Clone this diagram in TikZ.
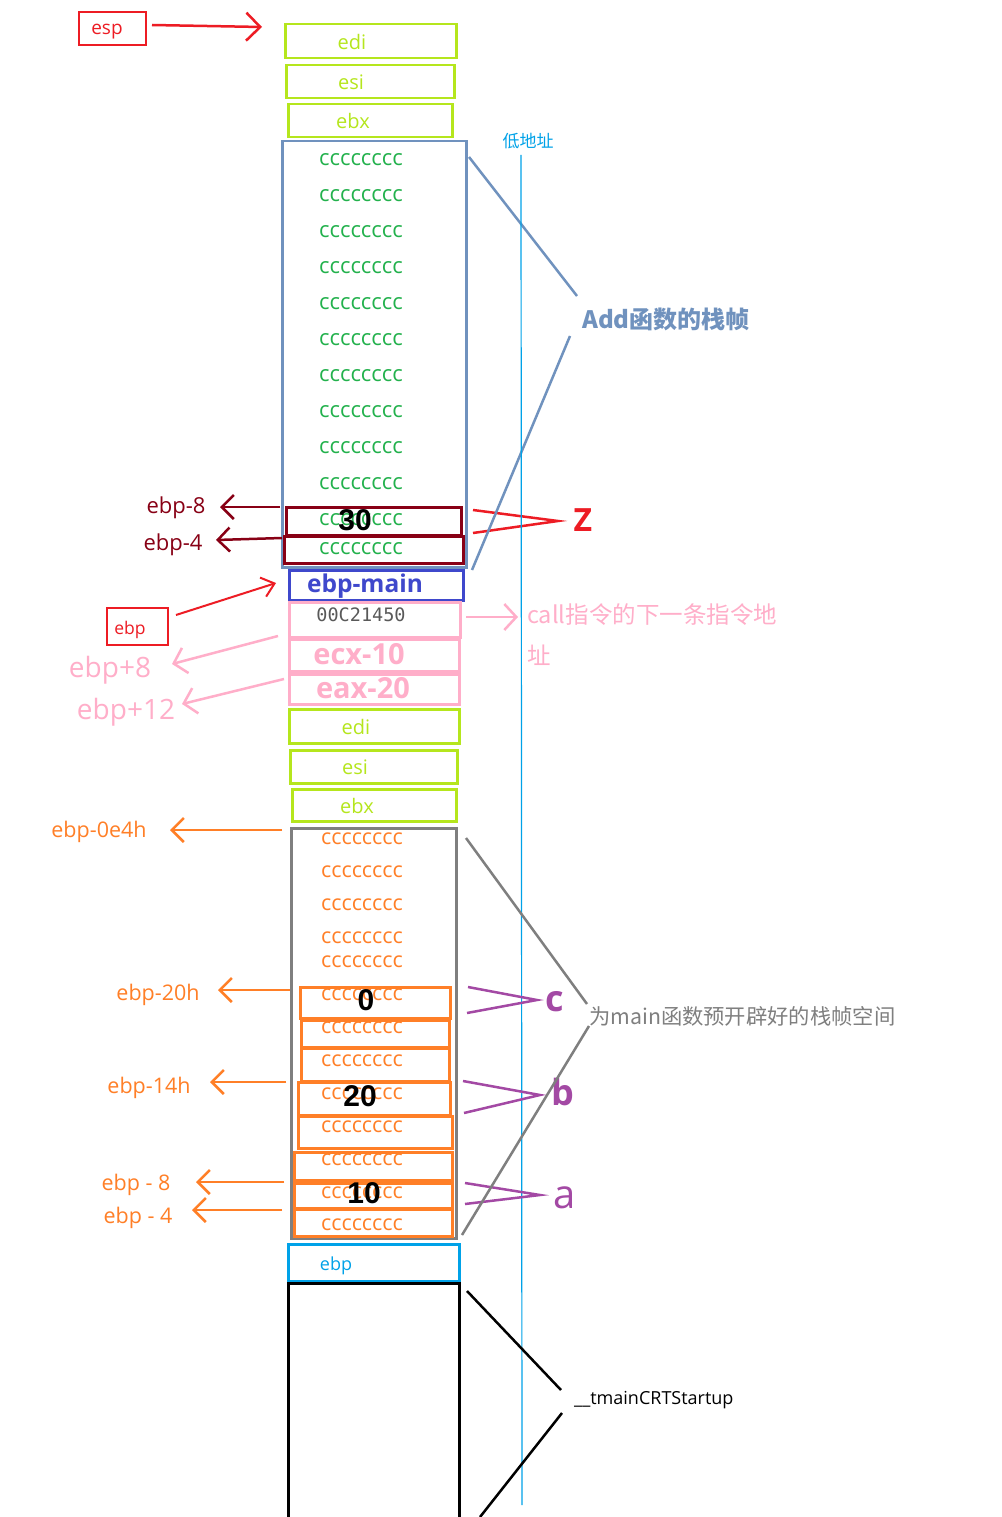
\documentclass[tikz,border=0pt]{standalone}
\usepackage{fontspec}
\setmainfont{Open Sans}
\newfontfamily\cjk{Noto Sans CJK SC}
\newfontfamily\monof{DejaVu Sans Mono}
\newfontfamily\arialf{Liberation Sans}
\usetikzlibrary{arrows.meta}
\newcommand\fsz[1]{\fontsize{#1}{#1}\selectfont}
\definecolor{ygreen}{RGB}{181,230,29}
\definecolor{cgreen}{RGB}{34,177,76}
\definecolor{addblue}{RGB}{112,146,190}
\definecolor{dred}{RGB}{136,0,21}
\definecolor{bred}{RGB}{237,28,36}
\definecolor{cyanc}{RGB}{0,162,232}
\definecolor{indig}{RGB}{63,72,204}
\definecolor{pinkc}{RGB}{255,174,201}
\definecolor{orangec}{RGB}{255,127,39}
\definecolor{grayc}{RGB}{127,127,127}
\definecolor{purp}{RGB}{163,73,164}
\definecolor{monog}{RGB}{89,89,89}
\begin{document}
\begin{tikzpicture}[x=1pt,y=-1pt,
  box/.style={draw, line width=2.5pt, inner sep=0pt, anchor=north west},
  lbl/.style={inner sep=0pt, anchor=center, yshift=-2.5pt, execute at begin node={\vphantom{Xg}}},
  lblw/.style={lbl, anchor=west},
  cc/.style={lbl, font=\fsz{22}},
  arr/.style={line width=2.5pt, -{Straight Barb[length=12pt,width=24pt]}},
  parr/.style={pinkc, line width=2.5pt, -{Straight Barb[length=12pt,width=26pt]}},
  big/.style={lbl, font=\arialf\bfseries\fsz{30}, text=black}
]
\path[fill=white,use as bounding box] (0,0) rectangle (1001,1517);

% esp
\node[box, draw=bred, line width=2pt, minimum width=67, minimum height=33] (espbox) at (78,11) {};
\node[lbl, text=bred, font=\fsz{19}] (esp) at (107,28) {esp};
\coordinate (espstart) at (152,25);
\coordinate (esptip) at (262,27);
\draw[arr, bred, -{Straight Barb[length=14pt,width=28pt]}] (espstart) -- (esptip);

% top saved registers
\node[box, draw=ygreen, minimum width=171, minimum height=34] (edi1) at (284,23) {};
\node[lbl, text=ygreen, font=\fsz{20}] (edi1t) at (352,42) {edi};
\node[box, draw=ygreen, minimum width=168, minimum height=33] (esi1) at (285,64) {};
\node[lbl, text=ygreen, font=\fsz{20}] (esi1t) at (351,82) {esi};
\node[box, draw=ygreen, minimum width=164, minimum height=33] (ebx1) at (287,103) {};
\node[lbl, text=ygreen, font=\fsz{20}] (ebx1t) at (353,121) {ebx};

% Add frame
\node[box, draw=addblue, minimum width=184, minimum height=426] (addf) at (281,140) {};
\foreach \yy in {158,194,230,266,302,338,374,410,446,482,518,547}
  \node[cc, text=cgreen] at (361,\yy) {cccccccc};
\node[box, draw=dred, minimum width=175, minimum height=28] (zb1) at (285,506) {};
\node[box, draw=dred, minimum width=179, minimum height=27] (zb2) at (283,535) {};
\node[big] (n30) at (355,521) {30};
\node[lbl, text=dred, font=\fsz{22}] (em8) at (176,505) {ebp-8};
\node[lbl, text=dred, font=\fsz{22}] (em4) at (173,542) {ebp-4};
\draw[arr, dred] (280,507) -- (220,507);
\draw[arr, dred] (282,538) -- (216,540);
\draw[bred, line width=2.5pt] (473,510) -- (558,521) -- (473,533);
\node[lbl, text=bred, font=\bfseries\fsz{32}] (zl) at (583,521) {Z};

\draw[addblue, line width=2.5pt] (469,157) -- (577,296);
\draw[addblue, line width=2.5pt] (570,336) -- (472,570);
\node[lbl, text=addblue, font=\cjk\bfseries\fsz{24}] (addl) at (666,319) {Add函数的栈帧};

% low address line
\node[lbl, text=cyanc, font=\cjk\fsz{17}] (low) at (528,140) {低地址};
\draw[cyanc, line width=1.2pt] (521,155) -- (522,1505);

% ebp-main
\node[box, draw=indig, minimum width=174, minimum height=30] (ebpm) at (288,569) {};
\node[lbl, text=indig, font=\bfseries\fsz{24.5}] (ebpmt) at (365,584) {ebp-main};

% ebp red box
\node[box, draw=bred, line width=2pt, minimum width=61, minimum height=37] (ebpr) at (106,607) {};
\node[lbl, text=bred, font=\fsz{17.5}] (ebprt) at (130,627) {ebp};
\draw[bred, line width=2pt, -{Straight Barb[length=12pt,width=20pt]}] (176,615) -- (276,583);

% pink
\node[box, draw=pinkc, minimum width=171, minimum height=35] (ret) at (288,601) {};
\node[lbl, text=monog, font=\monof\fsz{18.5}] (rett) at (361,614) {00C21450};
\node[box, draw=pinkc, minimum width=170, minimum height=32] (ecx) at (288,638) {};
\node[lbl, text=pinkc, font=\bfseries\fsz{29}] (ecxt) at (359,655) {ecx-10};
\node[box, draw=pinkc, minimum width=170, minimum height=30] (eax) at (288,673) {};
\node[lbl, text=pinkc, font=\bfseries\fsz{29}] (eaxt) at (363,689) {eax-20};
\draw[parr] (466,617) -- (518,617);
\node[lblw, text=pinkc, font=\cjk\fsz{23.5}] (calll) at (527,614) {call指令的下一条指令地};
\node[lblw, text=pinkc, font=\cjk\fsz{23.5}] (calll2) at (527,655) {址};
\node[lbl, text=pinkc, font=\fsz{28}] (ep8) at (110,668) {ebp+8};
\node[lbl, text=pinkc, font=\fsz{28}] (ep12) at (126,710) {ebp+12};
\draw[parr] (278,636) -- (172,664);
\draw[parr] (284,679) -- (182,704);

% lower saved registers
\node[box, draw=ygreen, minimum width=170, minimum height=34] (edi2) at (288,708) {};
\node[lbl, text=ygreen, font=\fsz{20}] (edi2t) at (356,727) {edi};
\node[box, draw=ygreen, minimum width=167, minimum height=33] (esi2) at (289,749) {};
\node[lbl, text=ygreen, font=\fsz{20}] (esi2t) at (355,767) {esi};
\node[box, draw=ygreen, minimum width=164, minimum height=32] (ebx2) at (291,788) {};
\node[lbl, text=ygreen, font=\fsz{20}] (ebx2t) at (357,806) {ebx};

% main frame
\node[box, draw=grayc, minimum width=165, minimum height=410] (mainf) at (290,827) {};
\node[box, draw=orangec, minimum width=150, minimum height=31] (o1) at (299,986) {};
\node[box, draw=orangec, minimum width=148, minimum height=27] (o2) at (300,1019) {};
\node[box, draw=orangec, minimum width=148, minimum height=33] (o3) at (300,1047) {};
\node[box, draw=orangec, minimum width=152, minimum height=33] (o4) at (297,1081) {};
\node[box, draw=orangec, minimum width=154, minimum height=32] (o5) at (297,1115) {};
\node[box, draw=orangec, minimum width=158, minimum height=28] (o6) at (293,1151) {};
\node[box, draw=orangec, minimum width=158, minimum height=25] (o7) at (293,1182) {};
\node[box, draw=orangec, minimum width=158, minimum height=27] (o8) at (293,1208) {};
\foreach \yy in {837,870,903,936,960,993,1026,1059,1092,1125,1158,1191,1223}
  \node[cc, text=orangec, font=\fsz{21.5}] at (362,\yy) {cccccccc};
\node[big] (n0) at (366,1001) {0};
\node[big] (n20) at (360,1097) {20};
\node[big] (n10) at (364,1194) {10};

\node[lbl, text=orangec, font=\fsz{21.5}] (e0e4) at (99,829) {ebp-0e4h};
\node[lbl, text=orangec, font=\fsz{21.5}] (e20) at (158,992) {ebp-20h};
\node[lbl, text=orangec, font=\fsz{21.5}] (e14) at (149,1085) {ebp-14h};
\node[lbl, text=orangec, font=\fsz{21.5}] (e8) at (136,1182) {ebp - 8};
\node[lbl, text=orangec, font=\fsz{21.5}] (e4) at (138,1215) {ebp - 4};
\draw[arr, orangec] (282,830) -- (170,830);
\draw[arr, orangec] (290,990) -- (218,990);
\draw[arr, orangec] (286,1082) -- (210,1082);
\draw[arr, orangec] (284,1182) -- (196,1182);
\draw[arr, orangec] (282,1210) -- (192,1210);

\draw[purp, line width=2.5pt] (468,987) -- (537,1000) -- (467,1013);
\node[lbl, text=purp, font=\bfseries\fsz{36}] (cl) at (555,1000) {c};
\draw[purp, line width=2.5pt] (463,1081) -- (540,1095) -- (464,1113);
\node[lbl, text=purp, font=\bfseries\fsz{36}] (bl) at (563,1094) {b};
\draw[purp, line width=2.5pt] (465,1183) -- (540,1195) -- (465,1204);
\node[lbl, text=purp, font=\fsz{40}] (al) at (565,1197) {a};

\draw[grayc, line width=2.5pt] (466,838) -- (587,1004);
\draw[grayc, line width=2.5pt] (589,1026) -- (462,1235);
\node[lblw, text=grayc, font=\cjk\fsz{21.3}] (mainl) at (589,1016) {为main函数预开辟好的栈帧空间};

% bottom
\node[box, draw=cyanc, minimum width=171, minimum height=37] (ebpb) at (287,1243) {};
\node[lbl, text=cyanc, font=\fsz{18}] (ebpbt) at (336,1263) {ebp};
\node[box, draw=black, minimum width=171, minimum height=260] (crt) at (287,1282) {};
\draw[black, line width=2.5pt] (467,1291) -- (561,1390);
\draw[black, line width=2.5pt] (562,1413) -- (480,1517);
\node[lblw, text=black, font=\fsz{18}] (crtl) at (574,1398) {\_\_tmainCRTStartup};
\end{tikzpicture}
\end{document}
